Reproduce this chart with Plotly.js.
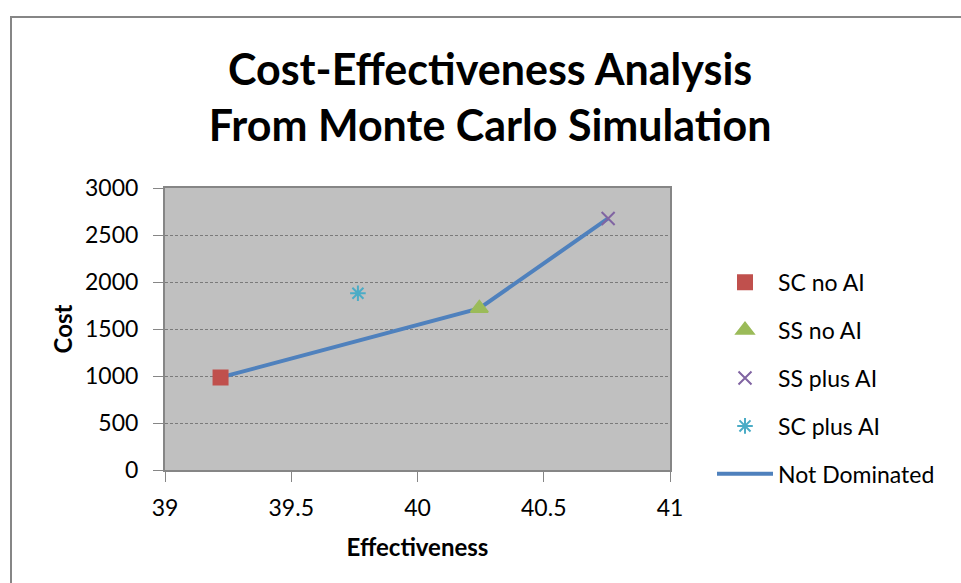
<!DOCTYPE html>
<html>
<head>
<meta charset="utf-8">
<script src="https://cdn.plot.ly/plotly-3.0.1.min.js"></script>
<style>body{margin:0;background:#fff}#chart{width:961px;height:583px}</style>
</head>
<body>
<div id="chart"></div>
<script>
// Data
const seriesNames = ["SC no AI", "SS no AI", "SS plus AI", "SC plus AI"];
const effectiveness = [39.22, 40.245, 40.755, 39.764];
const cost = [985, 1720, 2676, 1880];
const frontierName = "Not Dominated";
const frontierEff = [39.22, 40.245, 40.755];
const frontierCost = [985, 1720, 2676];
const xTicks = [39, 39.5, 40, 40.5, 41];
const xTickText = ["39", "39.5", "40", "40.5", "41"];
const yTicks = [0, 500, 1000, 1500, 2000, 2500, 3000];

const colors = ["#C0504D", "#9BBB59", "#8064A2", "#4BACC6"];
const symbols = ["square", "triangle-up", "x-thin-open", "asterisk-open"];
const sizes = [14, 15, 13, 13];

const FONT = "Lato, 'Open Sans', sans-serif";

const traces = seriesNames.map((n, i) => ({
  type: "scatter", mode: "markers", name: n,
  x: [effectiveness[i]], y: [cost[i]],
  legendgroup: "g" + i, legendrank: i + 1,
  marker: {color: colors[i], symbol: symbols[i], size: sizes[i],
           line: {color: colors[i], width: 2}}
}));
const frontier = {
  type: "scatter", mode: "lines", name: frontierName,
  x: frontierEff, y: frontierCost, legendgroup: "g5", legendrank: 5,
  line: {color: "#4F81BD", width: 4}
};
const data = [frontier].concat(traces);

const layout = {
  width: 961, height: 583,
  margin: {l: 165, r: 291, t: 188, b: 113},
  paper_bgcolor: "#ffffff",
  plot_bgcolor: "#C0C0C0",
  font: {family: FONT, size: 23, color: "#000"},
  title: {text: "Cost-Effectiveness Analysis<br>From Monte Carlo Simulation",
          font: {family: FONT, size: 43, color: "#000", weight: "bold"},
          xref: "container", x: 0.51, xanchor: "center",
          yref: "container", y: 1 - 85/583, yanchor: "top"},
  xaxis: {range: [39, 41], tickvals: xTicks, ticktext: xTickText,
          showgrid: false, zeroline: false,
          showline: true, mirror: true, linecolor: "#868686", linewidth: 2,
          ticks: "outside", ticklen: 10, tickcolor: "#868686", tickwidth: 1,
          ticklabelstandoff: 6,
          tickfont: {size: 23, color: "#000"},
          title: {text: "Effectiveness", font: {size: 24, weight: "bold"}, standoff: 20}},
  yaxis: {range: [0, 3000], tickvals: yTicks,
          showgrid: true, gridcolor: "#7a7a7a", griddash: "3px,2px", gridwidth: 1,
          zeroline: false,
          showline: true, mirror: true, linecolor: "#868686", linewidth: 2,
          ticks: "outside", ticklen: 10, tickcolor: "#868686", tickwidth: 1,
          ticklabelstandoff: 10,
          tickfont: {size: 23, color: "#000"},
          title: {text: "Cost", font: {size: 24, weight: "bold"}, standoff: 6}},
  legend: {x: (712-165)/505, xanchor: "left", y: 0.742, yanchor: "top",
           bgcolor: "rgba(0,0,0,0)", font: {size: 23, color: "#000"},
           itemwidth: 56, tracegroupgap: 15, traceorder: "grouped"},
  shapes: [{type: "rect", xref: "paper", yref: "paper", layer: "below",
            x0: (11-165)/505, x1: (975-165)/505, y0: (470-600)/282, y1: (470-17)/282,
            line: {color: "#868686", width: 2}, fillcolor: "rgba(0,0,0,0)"}]
};

Plotly.newPlot("chart", data, layout, {displayModeBar: false, staticPlot: true});
</script>
</body>
</html>
